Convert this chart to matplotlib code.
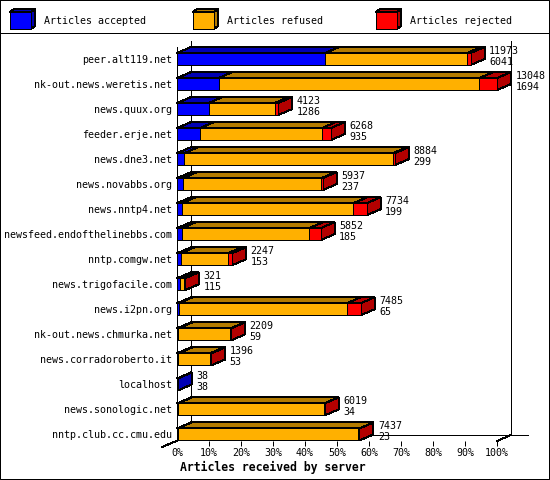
import matplotlib
matplotlib.use('Agg')
import matplotlib.pyplot as plt
from matplotlib.patches import Polygon, Rectangle
from matplotlib.colors import to_rgb

# articles received per server (top label = total, bottom label = accepted)
servers = ['peer.alt119.net', 'nk-out.news.weretis.net', 'news.quux.org',
           'feeder.erje.net', 'news.dne3.net', 'news.novabbs.org',
           'news.nntp4.net', 'newsfeed.endofthelinebbs.com', 'nntp.comgw.net',
           'news.trigofacile.com', 'news.i2pn.org', 'nk-out.news.chmurka.net',
           'news.corradoroberto.it', 'localhost', 'news.sonologic.net',
           'nntp.club.cc.cmu.edu']
total = [11973, 13048, 4123, 6268, 8884, 5937, 7734, 5852, 2247, 321,
         7485, 2209, 1396, 38, 6019, 7437]
accepted = [6041, 1694, 1286, 935, 299, 237, 199, 185, 153, 115,
            65, 59, 53, 38, 34, 23]
# rejected counts
rejected = [140, 715, 140, 367, 70, 50, 540, 475, 177, 40,
            570, 20, 55, 0, 30, 10]
refused = [t - a - r for t, a, r in zip(total, accepted, rejected)]

series = [('Articles accepted', accepted, '#0000ff'),
          ('Articles refused', refused, '#ffb000'),
          ('Articles rejected', rejected, '#ff0000')]

plt.rcParams['font.family'] = ['DejaVu Sans Mono']
FS = 7.2
LW = 0.72  # one pixel at 100 dpi

W, H = 550, 480
fig = plt.figure(figsize=(W / 100, H / 100), dpi=100)


def dark(color):
    return tuple(c * 0.7 for c in to_rgb(color))


# background layer in pixel units: frame and legend
bg = fig.add_axes([0, 0, 1, 1])
bg.set_xlim(0, W)
bg.set_ylim(H, 0)
bg.axis('off')
frame = dict(color='black', lw=LW, snap=False, clip_on=False)
bg.plot([0.5, W - 0.5, W - 0.5, 0.5, 0.5], [0.5, 0.5, H - 0.5, H - 0.5, 0.5], **frame)
bg.plot([0, W], [33.5, 33.5], **frame)
for (name, _, color), lx in zip(series, [10, 193, 376]):
    x0, x1, y0, y1 = lx, lx + 21, 12, 29
    bg.add_patch(Polygon([(x0, y0), (x1, y0), (x1 + 4, y0 - 3), (x0 + 4, y0 - 3)],
                         fc=dark(color), ec='black', lw=LW, antialiased=False))
    bg.add_patch(Polygon([(x1, y0), (x1 + 4, y0 - 3), (x1 + 4, y1 - 3), (x1, y1)],
                         fc=dark(color), ec='black', lw=LW, antialiased=False))
    bg.add_patch(Rectangle((x0, y0), x1 - x0, y1 - y0, fc=color, ec='black', lw=LW,
                           antialiased=False))
    bg.text(lx + 34, 20.5, name, fontsize=FS, ha='left', va='center')

fig.text(180 / W, 1 - 467 / H, 'Articles received by server', fontsize=8.3,
         fontweight='bold', ha='left', va='center')

# front plane of the 3D chart
LEFT, RIGHT, TOP, BOTTOM = 177, 497, 47, 441
ax = fig.add_axes([LEFT / W, 1 - BOTTOM / H, (RIGHT - LEFT) / W, (BOTTOM - TOP) / H])
ax.patch.set_visible(False)
n = len(servers)
y_lo, y_hi = n - 1 + 0.26, -0.48
ax.set_xlim(0, 100)
ax.set_ylim(y_lo, y_hi)

px_x = (RIGHT - LEFT) / 100
px_y = (BOTTOM - TOP) / (y_lo - y_hi)
DX, DY = 14 / px_x, 6 / px_y
HALF = 6 / px_y

# back walls
wall = dict(color='black', lw=LW, antialiased=False, clip_on=False, zorder=1)
ax.plot([DX, DX], [y_hi - DY, y_lo - DY], **wall)
ax.plot([100 + DX, 100 + DX], [y_hi - DY, y_lo - DY], **wall)
ax.plot([DX, 100 + DX + 17 / px_x], [y_lo - DY, y_lo - DY], **wall)
ax.plot([DX, -15 / px_x], [y_lo - DY, y_lo + 6 / px_y], **wall)
ax.plot([100, 100 + DX], [y_lo, y_lo - DY], **wall)


def box(x0, x1, y, color):
    yt, yb = y - HALF, y + HALF
    d = dark(color)
    faces = [([(x0, yt), (x1, yt), (x1 + DX, yt - DY), (x0 + DX, yt - DY)], d),
             ([(x1, yb), (x1, yt), (x1 + DX, yt - DY), (x1 + DX, yb - DY)], d),
             ([(x0, yb), (x1, yb), (x1, yt), (x0, yt)], color)]
    for pts, c in faces:
        ax.add_patch(Polygon(pts, closed=True, fc=c, ec='black', lw=LW,
                             clip_on=False, antialiased=False, zorder=2))


top_total = max(total)
for i in range(n):
    start = 0
    for _, vals, color in series:
        if vals[i] <= 0:
            continue
        end = start + vals[i] / top_total * 100
        box(start, end, i, color)
        start = end
    ax.annotate(str(total[i]), xy=(start, i), xytext=(18.5, 8.5),
                textcoords='offset pixels', fontsize=FS, ha='left', va='center',
                annotation_clip=False)
    ax.annotate(str(accepted[i]), xy=(start, i), xytext=(18.5, -2.5),
                textcoords='offset pixels', fontsize=FS, ha='left', va='center',
                annotation_clip=False)

for side in ['top', 'right', 'bottom']:
    ax.spines[side].set_visible(False)
ax.spines['left'].set_zorder(3)
ax.spines['left'].set_linewidth(LW)
ax.spines['left'].set_antialiased(False)

ax.set_xticks(range(0, 101, 10))
ax.set_xticklabels([f'{v}%' for v in range(0, 101, 10)])
ax.tick_params(axis='x', length=3.6, width=LW, direction='out', pad=1.5, labelsize=FS)
ax.xaxis.get_major_ticks()[0].tick1line.set_visible(False)
ax.set_yticks(range(n))
ax.set_yticklabels(servers)
ax.tick_params(axis='y', length=0, pad=3.6, labelsize=FS)

fig.savefig('out.png', dpi=100)
